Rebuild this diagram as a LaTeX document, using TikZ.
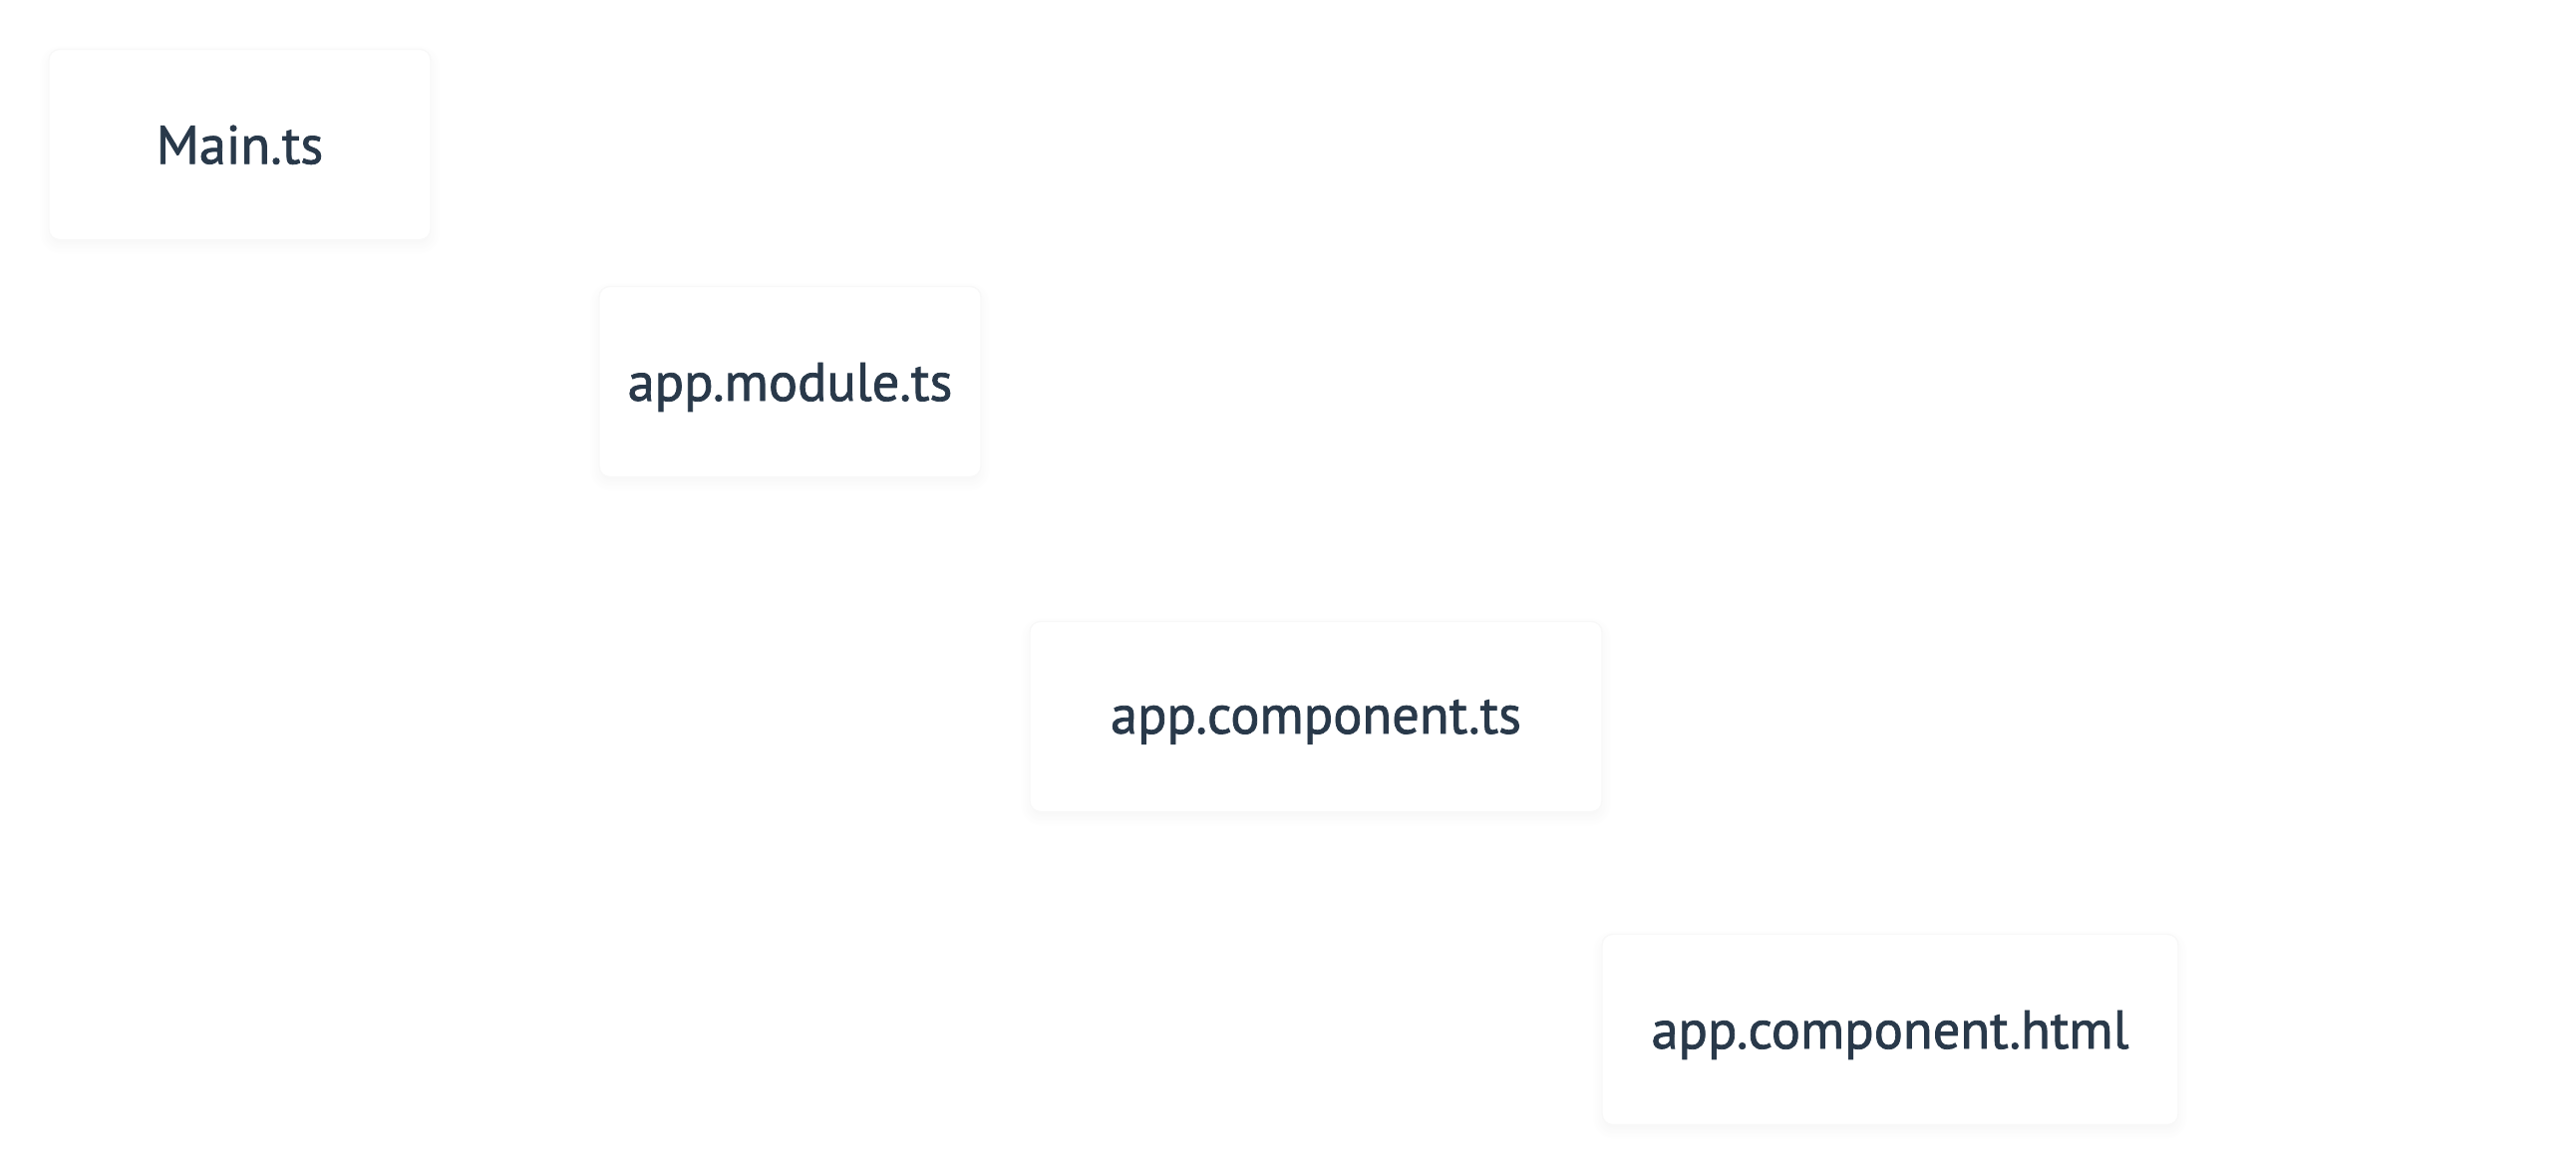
\documentclass[tikz,border=0pt]{standalone}
\usepackage{fontspec}
\setmainfont{PT Sans}
\newfontfamily\filefont{PT Sans}[FakeBold=1.4]
\usetikzlibrary{positioning,shadows.blur}
\definecolor{filetext}{HTML}{29394A}
\definecolor{fileedge}{HTML}{F8F8F8}

\tikzset{
  file/.style={rectangle, rounded corners=3pt, fill=white, draw=fileedge,
    text=filetext, outer sep=0pt, minimum height=1.91cm, text depth=0pt,
    font=\filefont\fontsize{15.5}{18}\selectfont,
    blur shadow={shadow xshift=0pt, shadow yshift=-1.5pt,
      shadow blur steps=8, shadow blur radius=3pt, shadow opacity=4}}
}

\begin{document}
\begin{tikzpicture}
  \useasboundingbox (0,0) rectangle (25.84,-11.76);

  \node[file, minimum width=3.83cm] (main) at (2.405,-1.45) {Main.ts};
  \node[file, minimum width=3.83cm, below right=0.47cm and 1.69cm of main] (appmodule) {app.module.ts};
  \node[file, minimum width=5.74cm, below right=1.45cm and 0.49cm of appmodule] (appcomp) {app.component.ts};
  \node[file, minimum width=5.78cm, below right=1.23cm and 0cm of appcomp] (apphtml) {app.component.html};
\end{tikzpicture}
\end{document}
